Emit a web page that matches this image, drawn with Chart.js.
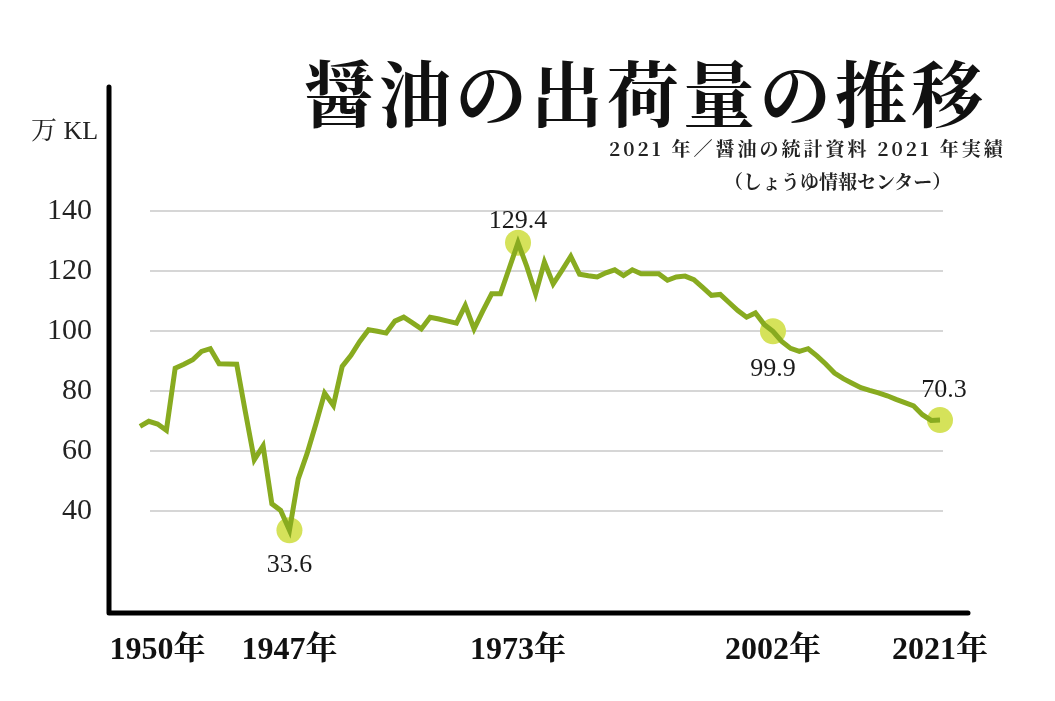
<!DOCTYPE html>
<html>
<head>
<meta charset="utf-8">
<script src="https://cdn.jsdelivr.net/npm/chart.js@4.4.1/dist/chart.umd.min.js"></script>
<style>
html,body{margin:0;padding:0;background:#fff;}
#wrap{position:relative;width:1055px;height:701px;overflow:hidden;background:#fff;}
#c{position:absolute;left:0;top:0;}
.t{position:absolute;white-space:nowrap;color:#111;}
#title{left:303px;top:54px;font-family:"Noto Serif CJK JP","Noto Sans CJK JP",serif;font-weight:700;font-size:72px;line-height:72px;letter-spacing:4px;}
#sub1{left:609px;top:138px;font-family:"Noto Serif CJK JP","Noto Sans CJK JP",serif;font-weight:700;font-size:19px;line-height:20px;letter-spacing:3px;color:#222;}
#sub2{left:724px;top:171px;font-family:"Noto Serif CJK JP","Noto Sans CJK JP",serif;font-weight:700;font-size:19px;line-height:20px;color:#222;}
#unit{left:31px;top:118px;font-family:"Liberation Serif","Noto Serif CJK JP",serif;font-size:26px;line-height:26px;color:#222;}
</style>
</head>
<body>
<div id="wrap">
<canvas id="c" width="1055" height="701"></canvas>
<div class="t" id="title">醤油の出荷量の推移</div>
<div class="t" id="sub1">2021 年／醤油の統計資料 2021 年実績</div>
<div class="t" id="sub2">（しょうゆ情報センター）</div>
<div class="t" id="unit">万 KL</div>
</div>
<script>
const years = [
  1930,1931,1932,1933,1934,1935,1936,1937,1938,1939,
  1940,1941,1942,1943,1944,1945,1946,1947,1948,1949,
  1950,1951,1952,1953,1954,1955,1956,1957,1958,1959,
  1960,1961,1962,1963,1964,1965,1966,1967,1968,1969,
  1970,1971,1972,1973,1974,1975,1976,1977,1978,1979,
  1980,1981,1982,1983,1984,1985,1986,1987,1988,1989,
  1990,1991,1992,1993,1994,1995,1996,1997,1998,1999,
  2000,2001,2002,2003,2004,2005,2006,2007,2008,2009,
  2010,2011,2012,2013,2014,2015,2016,2017,2018,2019,
  2020,2021
];
const shipments = [
  68.2,69.9,69.0,66.9,87.6,88.9,90.4,93.2,94.1,89.1,
  89.0,88.9,72.8,57.1,61.7,42.4,40.2,33.6,50.7,59.1,
  68.9,79.3,75.2,88.2,91.9,96.5,100.4,99.9,99.3,103.3,
  104.6,102.7,100.7,104.6,104.0,103.3,102.6,108.5,100.7,106.7,
  112.4,112.4,120.9,129.4,121.5,112.4,123.0,115.7,120.2,124.9,
  118.9,118.4,118.0,119.4,120.4,118.5,120.4,119.1,119.1,119.1,
  116.9,118.0,118.3,117.1,114.5,111.9,112.2,109.5,106.8,104.6,
  106.0,102.2,99.9,96.5,94.2,93.2,94.1,91.7,89.0,86.0,
  84.1,82.6,81.1,80.2,79.4,78.4,77.2,76.1,75.0,72.1,
  70.2,70.3
];
const yTicks = [40, 60, 80, 100, 120, 140];
const xTickIndex = [2, 17, 43, 72, 91];
const xTickText = ['1950年', '1947年', '1973年', '2002年', '2021年'];
const highlightIndex = [17, 43, 72, 91];

const highlightData = shipments.map((v, i) => highlightIndex.includes(i) ? v : null);

const gridAxisPlugin = {
  id: 'gridAxis',
  beforeDatasetsDraw(chart) {
    const {ctx, chartArea: a, scales: {y}} = chart;
    ctx.save();
    ctx.strokeStyle = '#c8c8c8';
    ctx.lineWidth = 1.5;
    y.ticks.forEach(t => {
      const py = y.getPixelForValue(t.value);
      ctx.beginPath();
      ctx.moveTo(a.left + 10, py);
      ctx.lineTo(a.right + 3, py);
      ctx.stroke();
    });
    ctx.strokeStyle = '#000';
    ctx.lineWidth = 5;
    ctx.lineCap = 'round';
    ctx.lineJoin = 'round';
    ctx.beginPath();
    ctx.moveTo(a.left - 31, a.top);
    ctx.lineTo(a.left - 31, a.bottom);
    ctx.lineTo(a.right + 28, a.bottom);
    ctx.stroke();
    ctx.restore();
  }
};

const valueLabelPlugin = {
  id: 'valueLabels',
  afterDatasetsDraw(chart, args, opts) {
    const {ctx} = chart;
    const meta = chart.getDatasetMeta(0);
    ctx.save();
    ctx.fillStyle = '#1a1a1a';
    ctx.font = '26px "Liberation Serif", serif';
    ctx.textAlign = 'center';
    ctx.textBaseline = 'middle';
    highlightIndex.forEach((idx, k) => {
      const pt = meta.data[idx];
      ctx.fillText(shipments[idx].toFixed(1), pt.x + opts.dx[k], pt.y + opts.dy[k]);
    });
    ctx.restore();
  }
};

new Chart(document.getElementById('c'), {
  type: 'line',
  data: {
    labels: years,
    datasets: [
      {
        data: shipments,
        borderColor: '#88ab20',
        borderWidth: 5,
        pointRadius: 0,
        pointHoverRadius: 0,
        tension: 0,
        fill: false,
        order: 1
      },
      {
        data: highlightData,
        showLine: false,
        pointRadius: 13,
        pointHoverRadius: 13,
        pointBackgroundColor: '#d5e25a',
        pointBorderWidth: 0,
        order: 2
      }
    ]
  },
  options: {
    responsive: false,
    animation: false,
    events: [],
    layout: {padding: {left: 0, right: 115, top: 87, bottom: 0}},
    plugins: {
      legend: {display: false},
      tooltip: {enabled: false},
      title: {display: false},
      valueLabels: {dx: [0, 0, 0, 4], dy: [35, -22, 38, -30]}
    },
    scales: {
      x: {
        type: 'category',
        offset: false,
        grid: {display: false, drawTicks: false},
        border: {display: false},
        afterFit(s) { s.height = 88; },
        ticks: {
          autoSkip: false,
          maxRotation: 0,
          minRotation: 0,
          padding: 19,
          color: '#111',
          font: {family: '"Liberation Serif","Noto Serif CJK JP",serif', size: 32, weight: 'bold'},
          callback(v, i) {
            const k = xTickIndex.indexOf(i);
            return k >= 0 ? xTickText[k] : '';
          }
        }
      },
      y: {
        min: 6,
        max: 181.33,
        grid: {display: false, drawTicks: false},
        border: {display: false},
        afterFit(s) { s.width = 140; },
        afterBuildTicks(s) { s.ticks = yTicks.map(v => ({value: v})); },
        ticks: {
          padding: 48,
          color: '#222',
          font: {family: '"Liberation Serif",serif', size: 30}
        }
      }
    }
  },
  plugins: [gridAxisPlugin, valueLabelPlugin]
});
</script>
</body>
</html>
